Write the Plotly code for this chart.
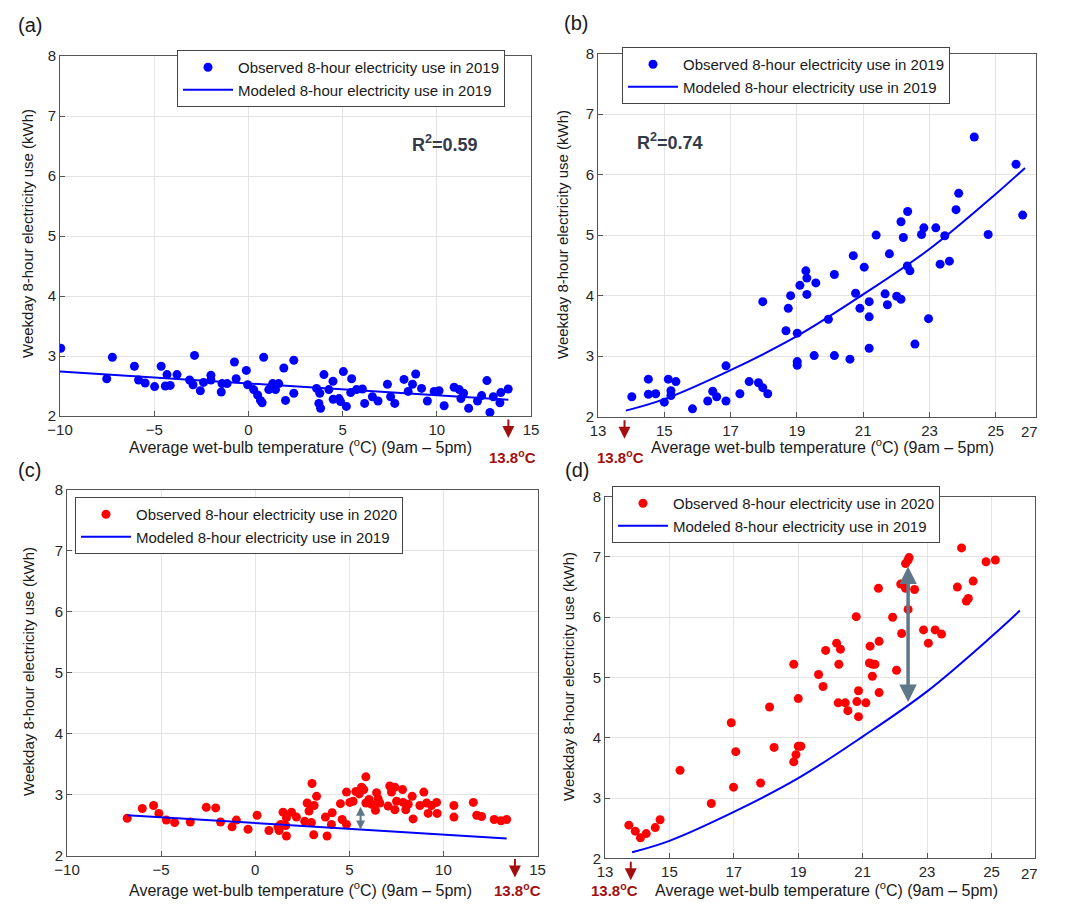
import plotly.graph_objects as go

# ---------------- data ----------------
# Panel (a): 2019 observed vs temperature (range -10..15)
a_temp = [-9.96, -7.52, -7.22, -6.05, -5.83, -5.48, -4.98, -4.63, -4.41, -4.32, -4.15, -3.79, -3.12, -2.94,
          -2.86, -2.55, -2.38, -1.99, -1.99, -1.44, -1.40, -1.13, -0.74, -0.65, -0.11, -0.04, 0.28, 0.49,
          0.64, 0.73, 0.81, 1.08, 1.29, 1.44, 1.61, 1.88, 1.97, 2.41, 2.41, 3.62, 3.79, 3.74, 3.83, 4.01,
          4.27, 4.49, 4.50, 4.81, 4.89, 5.04, 5.20, 5.43, 5.48, 5.74, 6.05, 6.17, 6.58, 6.88, 7.38, 7.55,
          7.77, 8.26, 8.48, 8.71, 8.88, 9.19, 9.50, 9.86, 10.12, 10.39, 10.92, 11.19, 11.28, 11.42, 11.69,
          12.16, 12.38, 12.66, 12.82, 13.00, 13.35, 13.40, 13.79]
a_use = [3.13, 2.62, 2.98, 2.83, 2.60, 2.55, 2.49, 2.83, 2.50, 2.69, 2.51, 2.69, 2.60, 2.52,
         3.01, 2.42, 2.56, 2.68, 2.60, 2.40, 2.54, 2.54, 2.90, 2.62, 2.76, 2.52, 2.44, 2.35,
         2.26, 2.22, 2.98, 2.44, 2.54, 2.44, 2.54, 2.80, 2.26, 2.93, 2.38, 2.46, 2.38, 2.21, 2.13, 2.69,
         2.44, 2.58, 2.28, 2.29, 2.24, 2.74, 2.16, 2.39, 2.62, 2.44, 2.45, 2.21, 2.32, 2.25, 2.53, 2.32,
         2.21, 2.61, 2.41, 2.53, 2.70, 2.46, 2.25, 2.41, 2.42, 2.17, 2.48, 2.44, 2.29, 2.38, 2.13,
         2.25, 2.34, 2.59, 2.06, 2.32, 2.22, 2.39, 2.45]
a_model_temp = [-10.0, 13.8]
a_model_use = [2.74, 2.27]

# Panel (b): 2019 observed vs temperature (range 13..)
b_temp = [14.02, 14.52, 14.52, 14.74, 15.00, 15.12, 15.20, 15.20, 15.35, 15.85, 16.31, 16.46, 16.58, 16.86,
          16.86, 17.28, 17.56, 17.84, 17.97, 18.12, 17.97, 18.67, 18.74, 18.81, 19.01, 19.01, 19.01, 19.09,
          19.27, 19.30, 19.30, 19.57, 20.13, 19.95, 19.52, 20.13, 20.60, 21.18, 20.70, 20.77, 20.90, 21.03,
          21.18, 21.18, 21.39, 21.66, 21.73, 21.79, 22.01, 22.14, 22.14, 22.21, 22.34, 22.33, 22.41, 22.56,
          22.76, 22.83, 22.97, 23.19, 23.32, 23.46, 23.60, 23.80, 23.88, 24.35, 24.77, 25.61, 25.81]
b_use = [2.33, 2.62, 2.37, 2.38, 2.24, 2.62, 2.43, 2.35, 2.58, 2.13, 2.26, 2.42, 2.33, 2.26,
         2.84, 2.38, 2.58, 2.56, 2.48, 2.38, 3.90, 3.42, 3.79, 4.00, 3.38, 2.91, 2.85, 4.17,
         4.41, 4.29, 4.02, 4.21, 4.35, 3.61, 3.01, 3.01, 2.95, 3.13, 4.66, 4.04, 3.79, 4.47,
         3.90, 3.65, 5.00, 4.03, 3.85, 4.69, 3.99, 3.94, 5.22, 4.96, 5.39, 4.49, 4.41, 3.20,
         5.01, 5.12, 3.62, 5.12, 4.52, 4.99, 4.57, 5.42, 5.69, 6.62, 5.01, 6.17, 5.33]
bd_model_temp = [13.84, 15.0, 17.0, 19.0, 21.0, 23.0, 25.0, 25.88]
bd_model_use = [2.10, 2.29, 2.77, 3.33, 4.02, 4.77, 5.68, 6.11]

# Panel (c): 2020 observed vs temperature (range -10..15)
c_temp = [-6.80, -6.00, -5.40, -5.12, -4.72, -4.28, -3.45, -2.60, -2.10, -1.84, -1.23, -1.00, -0.38, 0.10,
          0.73, 1.21, 1.27, 1.36, 1.48, 1.62, 1.66, 1.66, 1.93, 2.19, 2.63, 2.76, 2.86, 2.99, 3.02, 3.11,
          3.26, 3.13, 3.73, 3.82, 4.05, 4.09, 4.53, 4.62, 4.85, 4.85, 5.03, 5.20, 5.35, 5.53, 5.65, 5.77,
          5.88, 5.88, 6.05, 6.18, 6.39, 6.45, 6.53, 6.62, 7.15, 7.24, 7.06, 7.42, 7.42, 7.51, 7.83, 7.86,
          8.00, 8.13, 8.34, 8.39, 8.75, 8.96, 9.11, 9.19, 9.37, 9.64, 9.67, 10.56, 10.56, 11.59, 11.77,
          12.03, 12.70, 13.06, 13.36]
c_use = [2.61, 2.77, 2.82, 2.69, 2.58, 2.54, 2.55, 2.79, 2.78, 2.55, 2.47, 2.58, 2.43, 2.66,
         2.41, 2.47, 2.41, 2.51, 2.71, 2.49, 2.32, 2.62, 2.71, 2.63, 2.56, 2.86, 2.73, 2.54, 3.18, 2.34,
         2.97, 2.82, 2.63, 2.32, 2.51, 2.70, 2.85, 2.59, 3.04, 2.51, 2.87, 2.89, 3.05, 3.01, 3.12, 3.08,
         3.29, 2.86, 2.92, 2.84, 2.74, 3.03, 2.93, 2.86, 3.14, 3.04, 2.81, 3.12, 2.75, 2.89, 3.08, 2.87,
         2.75, 2.84, 2.97, 2.60, 2.82, 3.04, 2.86, 2.69, 2.82, 2.87, 2.69, 2.82, 2.63, 2.87, 2.66,
         2.64, 2.59, 2.57, 2.59]
c_model_temp = [-6.8, 13.36]
c_model_use = [2.66, 2.28]

# Panel (d): 2020 observed vs temperature (range 13..)
d_temp = [13.74, 13.94, 14.10, 14.28, 14.56, 14.71, 15.33, 16.30, 16.92, 16.99, 17.06, 17.83, 18.11, 18.25,
          18.86, 18.93, 18.86, 19.00, 19.00, 19.08, 19.63, 19.77, 19.85, 20.19, 20.26, 20.31, 20.24, 20.46,
          20.54, 20.80, 20.82, 20.87, 20.87, 21.10, 21.23, 21.21, 21.31, 21.38, 21.30, 21.51, 21.49, 21.51,
          21.93, 22.05, 22.21, 22.18, 22.33, 22.41, 22.41, 22.44, 22.33, 22.61, 22.89, 23.04, 23.25, 23.45,
          23.94, 24.07, 24.22, 24.28, 24.43, 24.83, 25.12]
d_use = [2.55, 2.45, 2.34, 2.41, 2.51, 2.64, 3.46, 2.91, 4.25, 3.18, 3.77, 3.25, 4.51, 3.84,
         3.60, 3.72, 5.22, 4.65, 3.86, 3.86, 5.05, 4.85, 5.45, 5.57, 5.22, 5.47, 4.58, 4.58,
         4.45, 6.01, 4.60, 4.78, 4.35, 4.58, 5.52, 5.24, 5.22, 5.22, 5.02, 5.60, 6.48, 4.75,
         6.00, 5.12, 5.73, 6.55, 6.48, 6.13, 6.95, 6.99, 6.89, 6.46, 5.79, 5.57, 5.79, 5.72,
         6.50, 7.15, 6.27, 6.31, 6.60, 6.92, 6.95]

x_ticks_cold = [-10, -5, 0, 5, 10, 15]
x_ticks_warm = [13, 15, 17, 19, 21, 23, 25]
y_ticks = [2, 3, 4, 5, 6, 7, 8]
threshold = 13.8
gap_c = (5.6, 2.40, 2.80)
gap_d = (22.41, 4.57, 6.84)

# ---------------- layout helpers ----------------
W, H = 1068, 909
OFF = 8  # page body margin in the browser
FONT = "Liberation Sans, Arial, sans-serif"
TICK = "#262626"
GRID = "#e3e3e3"


def px_x(p):
    return (p - OFF) / W


def px_y(p):
    return 1 - (p - OFF) / H


def xaxis(l, r, rng, ticks, anchor):
    return dict(domain=[px_x(l), px_x(r)], range=rng, tickvals=ticks, anchor=anchor,
                showgrid=True, gridcolor=GRID, gridwidth=1, zeroline=False, automargin=False,
                showline=True, linecolor="#555555", linewidth=1, mirror=True,
                ticks="inside", ticklen=5, tickcolor="#555555",
                tickfont=dict(size=15, color=TICK, family=FONT))


def yaxis(b, t, anchor):
    return dict(domain=[px_y(b), px_y(t)], range=[2, 8], tickvals=y_ticks, anchor=anchor,
                showgrid=True, gridcolor=GRID, gridwidth=1, zeroline=False, automargin=False,
                showline=True, linecolor="#555555", linewidth=1, mirror=True,
                ticks="inside", ticklen=5, tickcolor="#555555",
                tickfont=dict(size=15, color=TICK, family=FONT))


fig = go.Figure()

panels = [
    ("x", "y", "legend", a_temp, a_use, a_model_temp, a_model_use, "#0000ff", "2019"),
    ("x2", "y2", "legend2", b_temp, b_use, bd_model_temp, bd_model_use, "#0000ff", "2019"),
    ("x3", "y3", "legend3", c_temp, c_use, c_model_temp, c_model_use, "#ff0000", "2020"),
    ("x4", "y4", "legend4", d_temp, d_use, bd_model_temp, bd_model_use, "#ff0000", "2020"),
]
for xa, ya, lg, ox, oy, mx, my, col, yr in panels:
    fig.add_trace(go.Scatter(x=ox, y=oy, mode="markers", xaxis=xa, yaxis=ya, legend=lg,
                             marker=dict(color=col, size=9, line=dict(width=0)),
                             name=f"Observed 8-hour electricity use in {yr}"))
    fig.add_trace(go.Scatter(x=mx, y=my, mode="lines", xaxis=xa, yaxis=ya, legend=lg,
                             line=dict(color="#0000ff", width=2, shape="spline"),
                             name="Modeled 8-hour electricity use in 2019"))

legend_common = dict(bgcolor="white", bordercolor="#444444", borderwidth=1,
                     font=dict(size=15, family=FONT, color="#1a1a1a"),
                     xanchor="left", yanchor="top", itemwidth=50, tracegroupgap=2)

layout = dict(
    width=W, height=H, margin=dict(l=0, r=0, t=0, b=0, pad=0, autoexpand=False),
    paper_bgcolor="white", plot_bgcolor="white", showlegend=True,
    font=dict(family=FONT, color="#1a1a1a"),
    xaxis=xaxis(60, 531, [-10, 15], x_ticks_cold, "y"),
    yaxis=yaxis(416, 56, "x"),
    xaxis2=xaxis(598, 1035.6, [13, 26.2], x_ticks_warm, "y2"),
    yaxis2=yaxis(416.7, 53.5, "x2"),
    xaxis3=xaxis(67, 537.5, [-10, 15], x_ticks_cold, "y3"),
    yaxis3=yaxis(855.5, 489.5, "x3"),
    xaxis4=xaxis(605, 1035, [13, 26.35], x_ticks_warm, "y4"),
    yaxis4=yaxis(858.3, 496.7, "x4"),
    legend=dict(x=px_x(177), y=px_y(50), **legend_common),
    legend2=dict(x=px_x(622), y=px_y(47), **legend_common),
    legend3=dict(x=px_x(75), y=px_y(497), **legend_common),
    legend4=dict(x=px_x(612), y=px_y(486), **legend_common),
)
fig.update_layout(**layout)

ann = []


def label(text, x, y, size, color="#1a1a1a", angle=0):
    ann.append(dict(text=text, x=px_x(x), y=px_y(y), xref="paper", yref="paper", showarrow=False,
                    xanchor="center", yanchor="middle", textangle=angle,
                    font=dict(size=size, family=FONT, color=color)))


for txt, x, y in [("(a)", 30, 25), ("(b)", 576, 23), ("(c)", 30, 470), ("(d)", 577, 470)]:
    label(txt, x, y, 20)

ytitle = "Weekday 8-hour electricity use (kWh)"
xtitle = "Average wet-bulb temperature (<sup>o</sup>C) (9am \u2013 5pm)"
for x, y in [(28, 234), (563, 235), (28, 672), (568, 677)]:
    label(ytitle, x, y, 15, angle=-90)
for x, y in [(300, 446), (822, 446), (300, 889), (826, 889)]:
    label(xtitle, x, y, 16)

label("<b>R<sup>2</sup>=0.59</b>", 445, 143, 18, "#333a48")
label("<b>R<sup>2</sup>=0.74</b>", 670, 142, 18, "#333a48")

# "27" tick text shown at the right end of the warm-season axes
label("27", 1029, 432, 15, TICK)
label("27", 1029, 873, 15, TICK)

for xa, ya, lab_x, lab_y in [("x", "y", 512, 456), ("x2", "y2", 620, 456),
                             ("x3", "y3", 517, 889), ("x4", "y4", 614, 889)]:
    ann.append(dict(text="", x=threshold, y=0, xref=xa, yref=f"{ya} domain", ax=0, ay=-20,
                    showarrow=True, arrowhead=2, arrowsize=1.2, arrowwidth=2, arrowcolor="#a30f0f",
                    yshift=-22))
    label("<b>13.8<sup>o</sup>C</b>", lab_x, lab_y, 15, "#a30f0f")

for (gx, gy0, gy1), xa, ya, w, s in [(gap_c, "x3", "y3", 2.0, 0.9), (gap_d, "x4", "y4", 3.5, 1.0)]:
    ann.append(dict(text="", x=gx, y=gy1, ax=gx, ay=gy0, xref=xa, yref=ya, axref=xa, ayref=ya,
                    showarrow=True, arrowhead=2, startarrowhead=2, arrowside="end+start",
                    arrowsize=s, startarrowsize=s, arrowwidth=w, arrowcolor="#5e7887",
                    standoff=0, startstandoff=0))

fig.update_layout(annotations=ann)
fig.write_html("out.html")
